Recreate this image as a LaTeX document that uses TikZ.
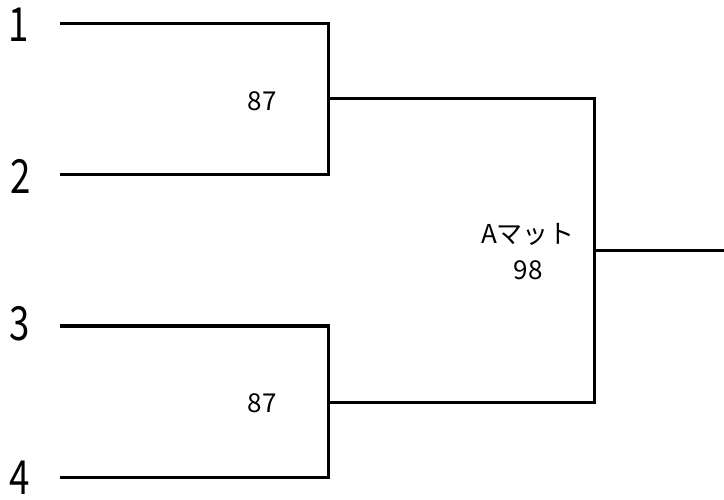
\documentclass[tikz,border=0pt]{standalone}
\usepackage{fontspec}
\setmainfont{Noto Sans CJK JP}
\begin{document}
\begin{tikzpicture}[x=1pt,y=-1pt,
  bline/.style={line width=3pt,line join=miter},
  seed/.style={inner sep=0pt,font=\fontsize{47}{47}\selectfont,xscale=0.78},
  score/.style={inner sep=0pt,font=\fontsize{26}{26}\selectfont}]
\useasboundingbox (0,0) rectangle (724,500);
% seeds
\node[seed] (n1) at (19,25) {1};
\node[seed] (n2) at (21,176) {2};
\node[seed] (n3) at (20,324) {3};
\node[seed] (n4) at (20,478) {4};
% coordinates
\coordinate (s1) at (60,24);
\coordinate (s2) at (60,175);
\coordinate (s3) at (60,326);
\coordinate (s4) at (60,477);
\coordinate (m1) at (328,99);
\coordinate (m2) at (328,402);
\coordinate (r) at (594,251);
\coordinate (e) at (726,251);
% bracket
\draw[bline] (s1) -| (m1) |- (s2);
\draw[bline] (s3) -| (m2) |- (s4);
\draw[bline] (m1) -| (r) |- (m2);
\draw[bline] (r) -- (e);
% scores
\node[score] (t1) at (262,101) {87};
\node[score] (t2) at (262,403) {87};
\node[score] (t3) at (528,234) {Aマット};
\node[score] (t4) at (528,270) {98};
\end{tikzpicture}
\end{document}
